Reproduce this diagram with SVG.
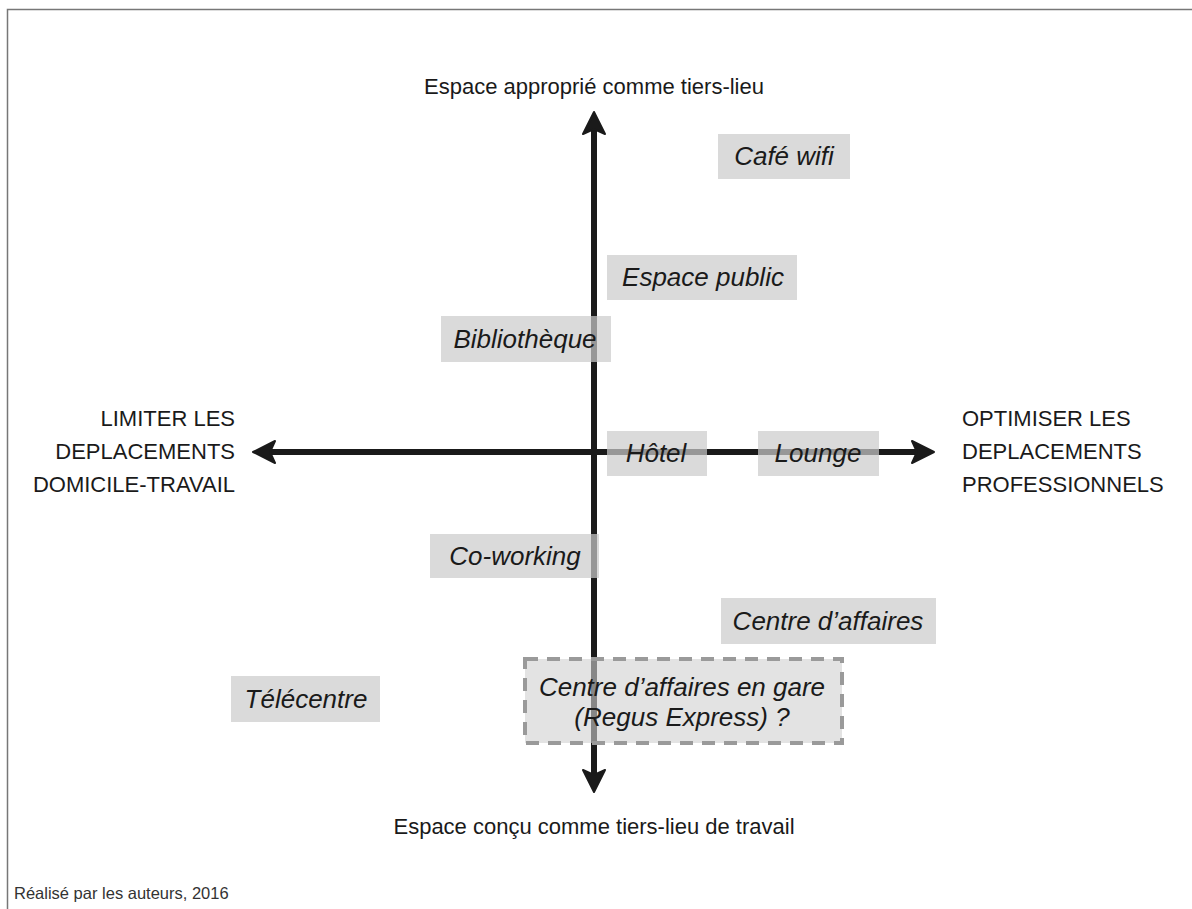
<svg xmlns="http://www.w3.org/2000/svg" width="1192" height="909" viewBox="0 0 1192 909">
<style>
.lbl{font-family:"Liberation Sans",Arial,sans-serif;font-size:22px;fill:#1a1a1a}
.it{font-family:"Liberation Sans",Arial,sans-serif;font-size:26px;font-style:italic;fill:#1a1a1a;text-anchor:middle}
.box{fill:#cbcbcb;fill-opacity:0.71}
.dbox{fill:#d0d0d0;fill-opacity:0.6;stroke:#9a9a9a;stroke-width:4;stroke-dasharray:13 9}
.ax{stroke:#1a1a1a;stroke-width:6;fill:none}
.head{fill:#1a1a1a;stroke:#1a1a1a;stroke-width:2;stroke-linejoin:round}
.foot{font-family:"Liberation Sans",Arial,sans-serif;font-size:16.5px;fill:#333333}
</style>
<rect width="1192" height="909" fill="#ffffff"/>
<path d="M7.5,909 V9.5 H1192" fill="none" stroke="#777" stroke-width="1.5"/>

<g id="connectors">
  <line class="ax" x1="594" y1="128" x2="594" y2="776"/>
  <line class="ax" x1="269" y1="452" x2="918" y2="452"/>
  <path class="head" d="M594,112 L605,134 L594,129 L583,134 Z"/>
  <path class="head" d="M594,792 L605,770 L594,775 L583,770 Z"/>
  <path class="head" d="M253,452 L275,441 L270,452 L275,463 Z"/>
  <path class="head" d="M934,452 L912,441 L917,452 L912,463 Z"/>
</g>

<g id="axis-top"><text class="lbl" x="594" y="94" text-anchor="middle">Espace approprié comme tiers-lieu</text></g>
<g id="axis-bottom"><text class="lbl" x="594" y="834" text-anchor="middle">Espace conçu comme tiers-lieu de travail</text></g>
<g id="axis-left">
  <text class="lbl" x="235" y="426" text-anchor="end">LIMITER LES</text>
  <text class="lbl" x="235" y="459" text-anchor="end">DEPLACEMENTS</text>
  <text class="lbl" x="235" y="492" text-anchor="end">DOMICILE-TRAVAIL</text>
</g>
<g id="axis-right">
  <text class="lbl" x="962" y="426">OPTIMISER LES</text>
  <text class="lbl" x="962" y="459">DEPLACEMENTS</text>
  <text class="lbl" x="962" y="492">PROFESSIONNELS</text>
</g>

<g id="cafe-wifi"><rect class="box" x="718" y="134" width="132" height="45"/><text class="it" x="784" y="165">Café wifi</text></g>
<g id="espace-public"><rect class="box" x="607" y="255" width="190" height="45"/><text class="it" x="703" y="286">Espace public</text></g>
<g id="bibliotheque"><rect class="box" x="441" y="316" width="170" height="46"/><text class="it" x="525" y="348">Bibliothèque</text></g>
<g id="hotel"><rect class="box" x="607" y="431" width="100" height="45"/><text class="it" x="656" y="462">Hôtel</text></g>
<g id="lounge"><rect class="box" x="758" y="431" width="121" height="45"/><text class="it" x="818" y="462">Lounge</text></g>
<g id="co-working"><rect class="box" x="430" y="534" width="169" height="44"/><text class="it" x="515" y="565">Co-working</text></g>
<g id="centre-affaires"><rect class="box" x="721" y="598" width="215" height="46"/><text class="it" x="828" y="630">Centre d’affaires</text></g>
<g id="telecentre"><rect class="box" x="231" y="676" width="149" height="46"/><text class="it" x="306" y="708">Télécentre</text></g>
<g id="centre-gare"><rect class="dbox" x="525" y="659" width="317" height="84"/>
  <text class="it" x="682" y="696">Centre d’affaires en gare</text>
  <text class="it" x="682" y="726">(Regus Express) ?</text>
</g>

<g id="footer"><text class="foot" x="14" y="899">Réalisé par les auteurs, 2016</text></g>
</svg>
